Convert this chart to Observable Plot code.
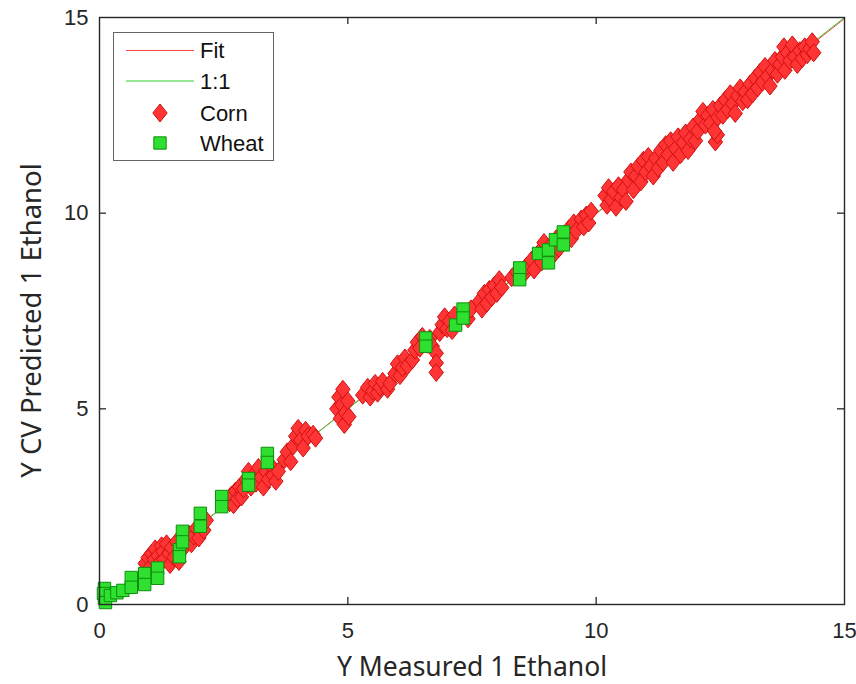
<!DOCTYPE html>
<html><head><meta charset="utf-8">
<script src="https://cdn.jsdelivr.net/npm/d3@7"></script>
<script src="https://cdn.jsdelivr.net/npm/@observablehq/plot@0.6"></script>
<style>body{margin:0;background:#fff}#chart{width:856px;height:684px}</style>
</head><body><div id="chart"></div>
<script>
const xTicks = [0, 5, 10, 15];
const yTicks = [0, 5, 10, 15];
const xLabel = "Y Measured 1 Ethanol";
const yLabel = "Y CV Predicted 1 Ethanol";
const legendLabels = ["Fit", "1:1", "Corn", "Wheat"];

// [measured, predicted]
const corn = [
  [0.92,1.05],[0.98,1.2],[1.02,0.95],[1.05,1.3],[1.1,1.15],[1.12,1.42],[1.18,1.25],[1.2,1.05],
  [1.25,1.5],[1.28,1.35],[1.3,1.15],[1.35,1.55],[1.4,1.3],[1.42,1.02],[1.45,1.45],[1.5,1.2],
  [1.55,1.6],[1.6,1.1],[1.7,1.45],[1.75,1.65],[1.8,1.8],[1.85,1.55],[1.9,1.75],[1.95,1.95],
  [2.0,1.7],[2.05,2.1],[2.1,1.9],[2.15,2.15],
  [2.62,2.6],[2.66,2.8],[2.7,2.55],[2.74,2.9],[2.78,2.7],[2.82,3.0],[2.86,2.75],[2.9,2.95],
  [2.95,3.2],[3.0,3.4],[3.05,3.0],[3.1,3.3],[3.15,3.1],[3.2,3.5],[3.25,3.25],[3.3,3.0],
  [3.35,3.4],[3.4,3.2],[3.45,3.55],[3.5,3.3],[3.55,3.15],[3.6,3.4],
  [3.72,3.7],[3.78,3.9],[3.85,3.65],[3.9,4.05],[3.95,4.3],[4.0,4.5],[4.05,4.2],[4.1,4.0],
  [4.15,4.45],[4.2,4.3],[4.3,4.35],[4.35,4.25],
  [4.78,5.0],[4.82,5.3],[4.85,4.75],[4.88,5.1],[4.9,5.5],[4.93,4.6],[4.95,4.9],[5.0,5.2],[5.02,4.8],
  [5.3,5.35],[5.4,5.55],[5.45,5.3],[5.5,5.45],[5.55,5.65],[5.6,5.4],[5.65,5.55],[5.7,5.7],
  [5.8,5.5],[5.85,5.65],
  [5.95,5.9],[6.0,6.15],[6.05,5.85],[6.1,6.05],[6.15,6.3],[6.2,6.1],[6.3,6.25],
  [6.35,6.5],[6.4,6.7],[6.45,6.55],[6.5,6.85],[6.6,6.65],[6.65,6.8],[6.7,6.6],
  [6.78,6.42],[6.78,6.17],[6.78,5.93],
  [6.85,6.95],[6.9,7.15],[6.95,7.35],[7.0,7.05],[7.05,7.25],[7.1,7.0],[7.15,7.4],
  [7.42,7.3],[7.48,7.55],
  [7.65,7.75],[7.7,7.55],[7.75,7.95],[7.8,7.7],[7.85,8.05],[7.9,7.85],[7.95,8.15],[8.0,7.95],
  [8.05,8.3],[8.1,8.1],
  [8.3,8.35],[8.4,8.5],[8.55,8.45],[8.6,8.65],[8.7,8.8],[8.75,8.55],[8.85,9.0],[8.9,8.75],
  [8.95,9.25],[9.0,9.05],[9.1,9.2],[9.15,8.95],[9.2,9.35],[9.25,9.1],
  [9.35,9.45],[9.45,9.6],[9.5,9.35],[9.55,9.75],[9.6,9.55],[9.7,9.85],[9.75,9.65],[9.8,9.95],
  [9.85,9.75],[9.9,10.05],
  [10.18,10.45],[10.22,10.2],[10.25,10.65],[10.3,10.35],[10.35,10.55],[10.4,10.15],[10.45,10.7],
  [10.5,10.4],[10.55,10.6],[10.6,10.3],
  [10.65,10.85],[10.7,11.05],[10.75,10.6],[10.8,10.95],[10.85,11.2],[10.9,10.8],[10.95,11.35],
  [11.0,11.05],[11.05,11.45],[11.1,11.2],[11.15,10.95],[11.2,11.4],[11.25,11.15],
  [11.3,11.6],[11.35,11.3],[11.4,11.75],[11.45,11.5],[11.5,11.85],[11.55,11.3],[11.6,11.65],
  [11.65,11.95],[11.7,11.5],[11.75,11.8],[11.8,12.05],[11.85,11.6],[11.9,11.9],[11.95,12.2],
  [12.0,11.85],
  [12.05,12.1],[12.1,12.4],[12.15,12.6],[12.2,12.25],[12.25,12.5],[12.3,12.3],[12.35,12.65],
  [12.45,12.45],[12.4,11.82],[12.44,12.0],[12.38,12.1],
  [12.5,12.75],[12.55,12.5],[12.6,12.9],[12.65,12.65],[12.7,13.05],[12.75,12.8],[12.8,12.55],
  [12.85,13.0],[12.9,13.2],[12.95,12.85],[13.0,13.1],[13.05,12.9],[13.1,13.3],[13.15,13.05],
  [13.2,13.45],[13.25,13.2],[13.3,13.6],[13.35,13.35],[13.4,13.75],[13.45,13.5],[13.5,13.25],
  [13.55,13.65],[13.6,13.9],[13.65,13.55],[13.7,13.8],[13.75,14.0],[13.78,14.25],
  [13.8,13.65],[13.85,14.1],[13.9,13.9],[13.95,14.3],[14.0,14.0],[14.05,13.8],[14.1,14.15],
  [14.15,13.95],[14.2,14.25],[14.25,14.05],[14.3,14.2],[14.35,14.38],[14.38,14.1]
];

const wheat = [
  [0.1,0.41],[0.1,0.15],[0.08,0.28],[0.12,0.05],[0.22,0.23],[0.35,0.3],[0.47,0.36],
  [0.64,0.69],[0.64,0.44],[0.91,0.79],[0.91,0.51],[1.17,0.93],[1.17,0.67],
  [1.61,1.4],[1.61,1.22],[1.67,1.87],[1.67,1.6],[2.03,2.33],[2.03,2.0],
  [2.46,2.76],[2.46,2.5],[3.0,3.22],[3.0,3.05],[3.38,3.86],[3.38,3.63],
  [6.57,6.81],[6.57,6.6],[7.17,7.14],[7.32,7.55],[7.32,7.32],
  [8.46,8.6],[8.46,8.3],[8.84,8.97],[9.04,9.06],[9.04,8.73],[9.18,9.32],
  [9.34,9.52],[9.34,9.19]
];

const fitMeasured = [0, 15];
const fitPredicted = [0.02, 14.97];
const unityLine = [0, 15];

const cornFill = "#ff3535", cornStroke = "#d01010";
const wheatFill = "#30e030", wheatStroke = "#0b8f0b";
const fitColor = "#ff4040", unityColor = "#33cc33";

const diamondSym = {draw(ctx, size) {
  const r = Math.sqrt(size / Math.PI), w = r * 0.8;
  ctx.moveTo(0, -r); ctx.lineTo(w, 0); ctx.lineTo(0, r); ctx.lineTo(-w, 0); ctx.closePath();
}};
const squareSym = {draw(ctx, size) {
  const r = Math.sqrt(size / Math.PI);
  ctx.rect(-r, -r, 2 * r, 2 * r);
}};

const W = 856, H = 684, mL = 99, mR = 12, mT = 17, mB = 80;
const innerW = W - mL - mR, innerH = H - mT - mB;
const inner = [5, 10];
const ink = "#262626";

const fitData = fitMeasured.map((x, i) => ({x, y: fitPredicted[i]}));
const unityData = unityLine.map(v => ({x: v, y: v}));

const plot = Plot.plot({
  width: W, height: H,
  marginLeft: mL, marginRight: mR, marginTop: mT, marginBottom: mB,
  style: {fontFamily: "'Liberation Sans', Arial, sans-serif", fontSize: "22px", color: ink, background: "#fff"},
  x: {domain: [0, 15], ticks: xTicks, tickSize: 0, tickPadding: 18, label: null},
  y: {domain: [0, 15], ticks: yTicks, tickSize: 0, tickPadding: 11, label: null},
  marks: [
    Plot.line(fitData, {x: "x", y: "y", stroke: fitColor, strokeWidth: 1}),
    Plot.line(unityData, {x: "x", y: "y", stroke: unityColor, strokeWidth: 1}),
    Plot.dot(corn, {x: d => d[0], y: d => d[1], symbol: diamondSym, r: 9, fill: cornFill, stroke: cornStroke, strokeWidth: 1}),
    Plot.dot(wheat, {x: d => d[0], y: d => d[1], symbol: squareSym, r: 6.2, fill: wheatFill, stroke: wheatStroke, strokeWidth: 1}),
    Plot.tickX(inner, {x: d => d, insetTop: innerH - 7, stroke: ink, strokeWidth: 1.3}),
    Plot.tickX(inner, {x: d => d, insetBottom: innerH - 7, stroke: ink, strokeWidth: 1.3}),
    Plot.tickY(inner, {y: d => d, insetRight: innerW - 7, stroke: ink, strokeWidth: 1.3}),
    Plot.tickY(inner, {y: d => d, insetLeft: innerW - 7, stroke: ink, strokeWidth: 1.3}),
    Plot.frame({stroke: ink, strokeWidth: 1.4}),
    Plot.text([xLabel], {text: d => d, frameAnchor: "bottom", textAnchor: "middle", lineAnchor: "middle",
      dy: 63, fontSize: 26.5, fontFamily: "'Noto Sans', 'Open Sans', sans-serif", fill: ink}),
    Plot.text([yLabel], {text: d => d, frameAnchor: "left", textAnchor: "middle", lineAnchor: "middle",
      dx: -67, dy: 9.5, rotate: -90, fontSize: 27.5, fontFamily: "'Noto Sans', 'Open Sans', sans-serif", fill: ink})
  ]
});

// legend
const svg = d3.select(plot);
const lg = svg.append("g");
lg.append("rect").attr("x", 113.5).attr("y", 32.5).attr("width", 160).attr("height", 128)
  .attr("fill", "#fff").attr("stroke", "#666").attr("stroke-width", 1);
const rowsY = [50.5, 81, 113, 143];
lg.append("line").attr("x1", 126).attr("x2", 194).attr("y1", rowsY[0]).attr("y2", rowsY[0]).attr("stroke", fitColor).attr("stroke-width", 1);
lg.append("line").attr("x1", 126).attr("x2", 194).attr("y1", rowsY[1]).attr("y2", rowsY[1]).attr("stroke", unityColor).attr("stroke-width", 1);
lg.append("path").attr("d", d3.symbol(diamondSym, Math.PI * 81)()).attr("transform", `translate(160,${rowsY[2]})`)
  .attr("fill", cornFill).attr("stroke", cornStroke);
lg.append("path").attr("d", d3.symbol(squareSym, Math.PI * 38)()).attr("transform", `translate(160,${rowsY[3]})`)
  .attr("fill", wheatFill).attr("stroke", wheatStroke);
legendLabels.forEach((t, i) => {
  lg.append("text").attr("x", 200).attr("y", rowsY[i]).attr("dy", "0.36em").attr("text-anchor", "start").text(t)
    .attr("font-family", "'Liberation Sans', Arial, sans-serif").attr("font-size", 22).attr("fill", "#111");
});

document.getElementById("chart").appendChild(plot);
</script>
</body></html>
